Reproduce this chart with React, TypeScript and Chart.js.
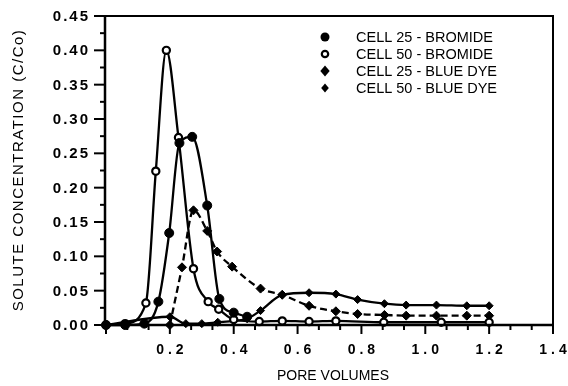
import React, { useEffect, useRef } from "react";
import { Chart, registerables } from "chart.js";

Chart.register(...registerables);

// ---- data ----
const seriesNames = [
  "CELL 25 - BROMIDE",
  "CELL 50 - BROMIDE",
  "CELL 25 - BLUE DYE",
  "CELL 50 - BLUE DYE",
];

const cell25BromideX = [0.0, 0.06, 0.12, 0.164, 0.198, 0.23, 0.27, 0.317, 0.355, 0.4, 0.442];
const cell25BromideY = [0.0, 0.0, 0.002, 0.034, 0.134, 0.265, 0.274, 0.174, 0.038, 0.018, 0.012];

const cell50BromideX = [0.0, 0.06, 0.125, 0.156, 0.189, 0.227, 0.274, 0.32, 0.353, 0.4, 0.48, 0.552, 0.636, 0.72, 0.87, 1.05, 1.2];
const cell50BromideY = [0.0, 0.002, 0.032, 0.224, 0.4, 0.273, 0.082, 0.034, 0.023, 0.008, 0.005, 0.006, 0.005, 0.006, 0.004, 0.004, 0.004];

const cell25DyeX = [0.2, 0.238, 0.274, 0.317, 0.348, 0.395, 0.484, 0.552, 0.636, 0.72, 0.788, 0.872, 0.94, 1.035, 1.13, 1.2];
const cell25DyeY = [0.0, 0.084, 0.167, 0.137, 0.107, 0.085, 0.053, 0.044, 0.028, 0.02, 0.016, 0.0146, 0.0136, 0.0136, 0.0136, 0.0136];

const cell50DyeX = [0.0, 0.2, 0.25, 0.3, 0.35, 0.4, 0.442, 0.484, 0.552, 0.636, 0.72, 0.788, 0.872, 0.94, 1.035, 1.13, 1.2];
const cell50DyeY = [0.0, 0.012, 0.002, 0.002, 0.004, 0.006, 0.009, 0.021, 0.044, 0.047, 0.045, 0.037, 0.031, 0.029, 0.029, 0.028, 0.028];

const xTickValues = [0.2, 0.4, 0.6, 0.8, 1.0, 1.2, 1.4];
const xTickLabels = ["0.2", "0.4", "0.6", "0.8", "1.0", "1.2", "1.4"];
const yTickValues = [0, 0.05, 0.1, 0.15, 0.2, 0.25, 0.3, 0.35, 0.4, 0.45];
const yTickLabels = ["0.00", "0.05", "0.10", "0.15", "0.20", "0.25", "0.30", "0.35", "0.40", "0.45"];

const xTitle = "PORE VOLUMES";
const yTitle = "SOLUTE CONCENTRATION (C/Co)";

const FONT = '"Liberation Sans", Arial, Helvetica, sans-serif';

function pts(xs: number[], ys: number[]) {
  return xs.map((x, i) => ({ x, y: ys[i] }));
}

const framePlugin = {
  id: "framePlugin",
  afterDraw(chart: any) {
    const ctx: CanvasRenderingContext2D = chart.ctx;
    const xs = chart.scales.x;
    const ys = chart.scales.y;
    const { left, right, top, bottom } = chart.chartArea;
    const axisX = left - 1;
    ctx.save();
    ctx.strokeStyle = "#000";
    ctx.fillStyle = "#000";
    // frame
    ctx.lineWidth = 2.5;
    ctx.beginPath();
    ctx.moveTo(axisX, top);
    ctx.lineTo(axisX, bottom);
    ctx.lineTo(right, bottom);
    ctx.stroke();
    ctx.lineWidth = 2;
    ctx.beginPath();
    ctx.moveTo(axisX, top);
    ctx.lineTo(right, top);
    ctx.lineTo(right, bottom);
    ctx.stroke();

    // x ticks: major every 0.2, minor every 0.2/3
    ctx.lineWidth = 2;
    for (let i = 0; i <= 21; i++) {
      const v = (i * 0.2) / 3;
      const px = xs.getPixelForValue(v);
      const major = i % 3 === 0;
      ctx.beginPath();
      ctx.moveTo(px, bottom);
      ctx.lineTo(px, bottom + (major ? 9 : 5));
      ctx.stroke();
    }
    // y ticks: major every 0.05, minor at half
    for (let i = 0; i <= 18; i++) {
      const v = i * 0.025;
      const py = ys.getPixelForValue(v);
      const major = i % 2 === 0;
      ctx.beginPath();
      ctx.moveTo(axisX - (major ? 11 : 5), py);
      ctx.lineTo(axisX, py);
      ctx.stroke();
    }

    // tick labels
    ctx.font = `bold 14px ${FONT}`;
    (ctx as any).letterSpacing = "4px";
    ctx.textAlign = "center";
    ctx.textBaseline = "middle";
    xTickValues.forEach((v, i) => {
      ctx.fillText(xTickLabels[i], xs.getPixelForValue(v) + 2, bottom + 25);
    });
    ctx.font = `bold 15px ${FONT}`;
    (ctx as any).letterSpacing = "2px";
    ctx.textAlign = "right";
    yTickValues.forEach((v, i) => {
      ctx.fillText(yTickLabels[i], 90, ys.getPixelForValue(v) + 1);
    });
    (ctx as any).letterSpacing = "0px";

    // titles
    ctx.font = `14px ${FONT}`;
    ctx.textAlign = "center";
    ctx.fillText(xTitle, 333, 376);
    ctx.save();
    ctx.translate(19, 170);
    ctx.rotate(-Math.PI / 2);
    ctx.font = `15px ${FONT}`;
    (ctx as any).letterSpacing = "1.5px";
    ctx.fillText(yTitle, 0, 0);
    (ctx as any).letterSpacing = "0px";
    ctx.restore();

    // legend
    const rows = [37, 54, 71, 88];
    const mx = 325;
    ctx.font = `14.5px ${FONT}`;
    ctx.textAlign = "left";
    ctx.textBaseline = "middle";
    seriesNames.forEach((n, i) => {
      ctx.fillText(n, 356, rows[i] + 1);
    });
    // markers
    ctx.beginPath();
    ctx.arc(mx, rows[0], 4.5, 0, Math.PI * 2);
    ctx.fill();
    ctx.beginPath();
    ctx.lineWidth = 2.2;
    ctx.arc(mx, rows[1], 3.2, 0, Math.PI * 2);
    ctx.stroke();
    const diamond = (cy: number, r: number) => {
      ctx.beginPath();
      ctx.moveTo(mx, cy - r);
      ctx.lineTo(mx + r * 0.85, cy);
      ctx.lineTo(mx, cy + r);
      ctx.lineTo(mx - r * 0.85, cy);
      ctx.closePath();
      ctx.fill();
    };
    diamond(rows[2], 5.5);
    diamond(rows[3], 4.5);
    ctx.restore();
  },
};

export default function App() {
  const ref = useRef<HTMLCanvasElement | null>(null);
  useEffect(() => {
    document.body.style.margin = "0";
    if (!ref.current) return;
    const common = {
      showLine: true,
      borderColor: "#000",
      backgroundColor: "#000",
      pointBorderColor: "#000",
      borderWidth: 2.3,
      cubicInterpolationMode: "monotone" as const,
      clip: 10,
    };
    const chart = new Chart(ref.current, {
      type: "scatter",
      data: {
        datasets: [
          {
            ...common,
            label: seriesNames[0],
            data: pts(cell25BromideX, cell25BromideY),
            pointStyle: "circle",
            pointRadius: 4.5,
            pointBackgroundColor: "#000",
            pointBorderWidth: 1,
          },
          {
            ...common,
            label: seriesNames[1],
            data: pts(cell50BromideX, cell50BromideY),
            pointStyle: "circle",
            pointRadius: 3.6,
            pointBackgroundColor: "#fff",
            pointBorderWidth: 2.2,
          },
          {
            ...common,
            label: seriesNames[2],
            data: pts(cell25DyeX, cell25DyeY),
            borderDash: [7, 4],
            pointStyle: "rectRot",
            pointRadius: 4.5,
            pointBackgroundColor: "#000",
            pointBorderWidth: 1,
          },
          {
            ...common,
            label: seriesNames[3],
            data: pts(cell50DyeX, cell50DyeY),
            pointStyle: "rectRot",
            pointRadius: 4,
            pointBackgroundColor: "#000",
            pointBorderWidth: 1,
          },
        ],
      },
      options: {
        animation: false,
        responsive: false,
        layout: { padding: { left: 106, right: 15, top: 16, bottom: 61 } },
        plugins: { legend: { display: false }, tooltip: { enabled: false } },
        scales: {
          x: { type: "linear", min: 0, max: 1.4, display: false },
          y: { type: "linear", min: 0, max: 0.45, display: false },
        },
      },
      plugins: [framePlugin],
    });
    return () => chart.destroy();
  }, []);
  return (
    <div style={{ width: 568, height: 386, background: "#fff" }}>
      <canvas ref={ref} width={568} height={386} style={{ width: 568, height: 386, display: "block" }} />
    </div>
  );
}
